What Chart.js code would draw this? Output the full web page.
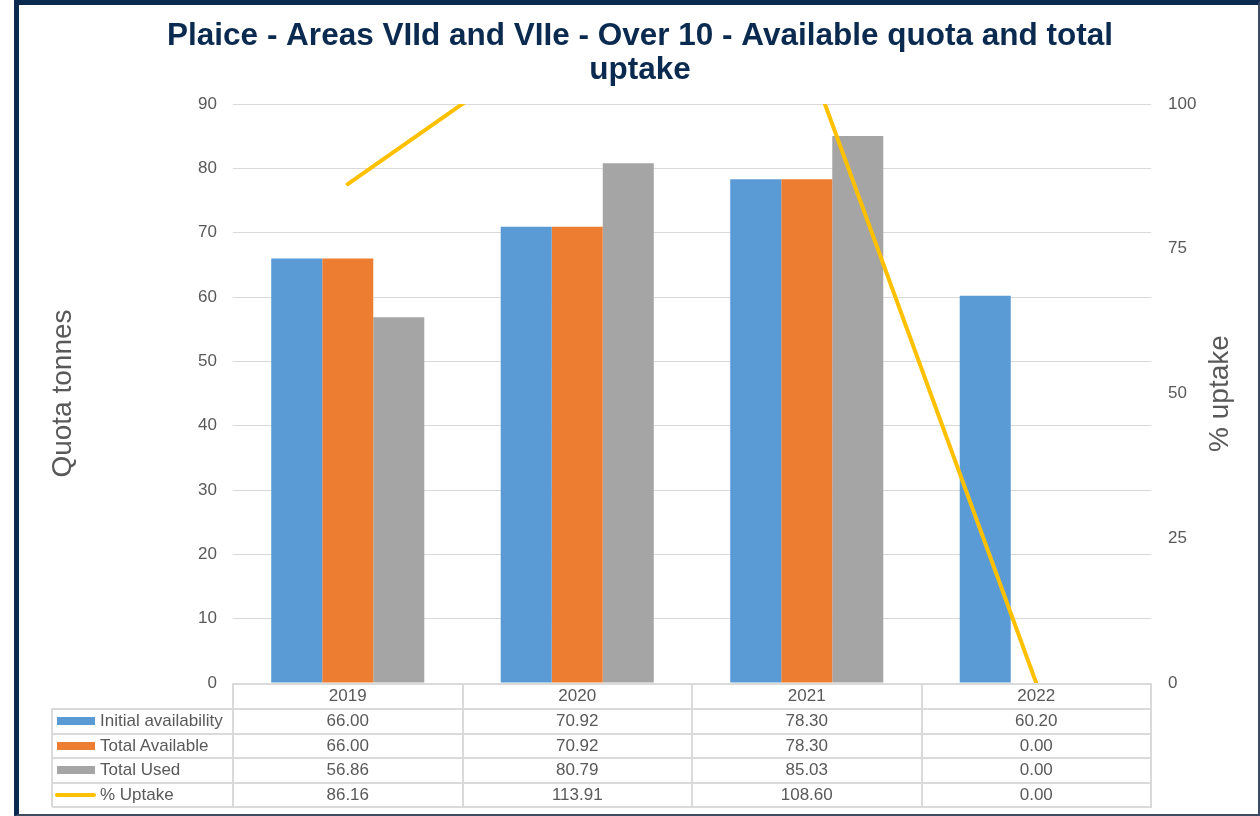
<!DOCTYPE html>
<html>
<head>
<meta charset="utf-8">
<script src="https://cdn.jsdelivr.net/npm/chart.js@4.4.1/dist/chart.umd.min.js"></script>
<style>
  html, body { margin: 0; padding: 0; background: #fff; }
  #wrap { position: relative; width: 1260px; height: 816px; overflow: hidden; font-family: "Liberation Sans", Arial, sans-serif; }
  #plaiceChart { position: absolute; left: 0; top: 0; }
  #frame {
    position: absolute; left: 14px; top: 0; width: 1246px; height: 816px; box-sizing: border-box;
    border-top: 5px solid #0b2a50; border-left: 5px solid #0b2a50;
    border-right: 2px solid #3d4c63; border-bottom: 2px solid #3d4c63;
    pointer-events: none;
  }
  .ln { position: absolute; background: #dadada; }
  .cell { position: absolute; color: #595959; font-size: 17px; white-space: nowrap; }
  .key { position: absolute; }
</style>
</head>
<body>
<div id="wrap">
  <canvas id="plaiceChart" width="1260" height="816"></canvas>
  <div id="table"></div>
  <div id="frame"></div>
</div>
<script>
(function () {
  "use strict";

  // chart data
  var years = ["2019", "2020", "2021", "2022"];
  var initialAvailability = [66.0, 70.92, 78.3, 60.2];
  var totalAvailable = [66.0, 70.92, 78.3, 0.0];
  var totalUsed = [56.86, 80.79, 85.03, 0.0];
  var pctUptake = [86.16, 113.91, 108.6, 0.0];

  var titleLines = ["Plaice - Areas VIId and VIIe - Over 10 - Available quota and total", "uptake"];
  var leftTitle = "Quota tonnes";
  var rightTitle = "% uptake";

  var fontFamily = "'Liberation Sans', Arial, sans-serif";
  var grey = "#595959";

  var series = [
    { label: "Initial availability", data: initialAvailability, color: "#5B9BD5", kind: "bar" },
    { label: "Total Available", data: totalAvailable, color: "#ED7D31", kind: "bar" },
    { label: "Total Used", data: totalUsed, color: "#A5A5A5", kind: "bar" },
    { label: "% Uptake", data: pctUptake, color: "#FFC000", kind: "line" },
  ];

  // right axis title reads bottom-to-top, chart.js would rotate it the other way
  var rightTitlePlugin = {
    id: "rightTitle",
    afterDraw: function (chart) {
      var ctx = chart.ctx;
      var area = chart.chartArea;
      ctx.save();
      ctx.translate(1220, (area.top + area.bottom) / 2);
      ctx.rotate(-Math.PI / 2);
      ctx.font = "28px " + fontFamily;
      ctx.fillStyle = grey;
      ctx.textAlign = "center";
      ctx.textBaseline = "middle";
      ctx.fillText(rightTitle, 0, 0);
      ctx.restore();
    },
  };

  // data table under the plot, laid out from the x scale
  var built = false;
  var tablePlugin = {
    id: "dataTable",
    afterRender: function (chart) {
      if (built) return;
      built = true;
      var host = document.getElementById("table");
      var x = chart.scales.x;
      var area = chart.chartArea;
      var colW = (x.right - x.left) / years.length;
      var labelLeft = 52;
      var headTop = area.bottom;
      var headH = 26;
      var rowH = 24.5;
      var bottom = headTop + headH + rowH * series.length;

      function line(l, t, w, h) {
        var d = document.createElement("div");
        d.className = "ln";
        d.style.left = l + "px"; d.style.top = t + "px";
        d.style.width = w + "px"; d.style.height = h + "px";
        host.appendChild(d);
      }
      function cell(text, l, t, w, h, align) {
        var d = document.createElement("div");
        d.className = "cell";
        d.textContent = text;
        d.style.left = l + "px"; d.style.top = t + "px";
        d.style.width = w + "px"; d.style.height = h + "px";
        d.style.lineHeight = h + "px";
        d.style.textAlign = align;
        host.appendChild(d);
      }

      // horizontal rules
      line(x.left, headTop, x.right - x.left, 2);
      for (var r = 0; r <= series.length; r++) {
        line(labelLeft, headTop + headH + r * rowH - 1, x.right - labelLeft, 2);
      }
      // vertical rules
      line(labelLeft - 1, headTop + headH - 1, 2, bottom - headTop - headH + 1);
      for (var c = 0; c <= years.length; c++) {
        line(x.left + c * colW - 1, headTop, 2, bottom - headTop + 1);
      }

      years.forEach(function (yr, i) {
        var cx = x.getPixelForValue(i);
        cell(yr, cx - colW / 2, headTop, colW, headH, "center");
      });

      series.forEach(function (s, r) {
        var top = headTop + headH + r * rowH;
        var key = document.createElement("div");
        key.className = "key";
        key.style.background = s.color;
        if (s.kind === "bar") {
          key.style.left = "57px"; key.style.width = "38px";
          key.style.top = (top + rowH / 2 - 4) + "px"; key.style.height = "8px";
        } else {
          key.style.left = "55px"; key.style.width = "41px";
          key.style.top = (top + rowH / 2 - 2) + "px"; key.style.height = "4px";
          key.style.borderRadius = "2px";
        }
        host.appendChild(key);
        cell(s.label, 100, top, x.left - 102, rowH, "left");
        s.data.forEach(function (v, i) {
          var cx = x.getPixelForValue(i);
          cell(v.toFixed(2), cx - colW / 2, top, colW, rowH, "center");
        });
      });
    },
  };

  var datasets = series.map(function (s) {
    if (s.kind === "bar") {
      return {
        type: "bar",
        label: s.label,
        data: s.data,
        backgroundColor: s.color,
        borderWidth: 0,
        yAxisID: "y",
        order: 1,
        categoryPercentage: 0.667,
        barPercentage: 1,
      };
    }
    return {
      type: "line",
      label: s.label,
      data: s.data,
      borderColor: s.color,
      backgroundColor: s.color,
      borderWidth: 4,
      borderCapStyle: "round",
      pointRadius: 0,
      tension: 0,
      yAxisID: "y1",
      order: 0,
      clip: 0,
    };
  });

  var canvas = document.getElementById("plaiceChart");
  new Chart(canvas.getContext("2d"), {
    type: "bar",
    data: { labels: years, datasets: datasets },
    plugins: [rightTitlePlugin, tablePlugin],
    options: {
      responsive: false,
      animation: false,
      layout: {
        padding: { top: 5, left: 32, right: 12, bottom: 133 },
      },
      plugins: {
        legend: { display: false },
        tooltip: { enabled: false },
        title: {
          display: true,
          text: titleLines,
          color: "#0b2a50",
          font: { family: fontFamily, size: 31.5, weight: "bold", lineHeight: 1.08 },
          padding: { top: 14, bottom: 17 },
        },
      },
      scales: {
        x: {
          display: false,
        },
        y: {
          position: "left",
          min: 0,
          max: 90,
          ticks: {
            stepSize: 10,
            color: grey,
            padding: 16,
            font: { family: fontFamily, size: 17 },
          },
          grid: { color: "#d9d9d9", drawTicks: false },
          border: { display: false },
          title: {
            display: true,
            text: leftTitle,
            color: grey,
            font: { family: fontFamily, size: 28 },
            padding: { top: 14, bottom: 0 },
          },
          afterFit: function (scale) { scale.width = 201; },
        },
        y1: {
          position: "right",
          min: 0,
          max: 100,
          ticks: {
            stepSize: 25,
            color: grey,
            padding: 17,
            font: { family: fontFamily, size: 17 },
          },
          grid: { display: false, drawTicks: false },
          border: { display: false },
          afterFit: function (scale) { scale.width = 97; },
        },
      },
    },
  });
})();
</script>
</body>
</html>
